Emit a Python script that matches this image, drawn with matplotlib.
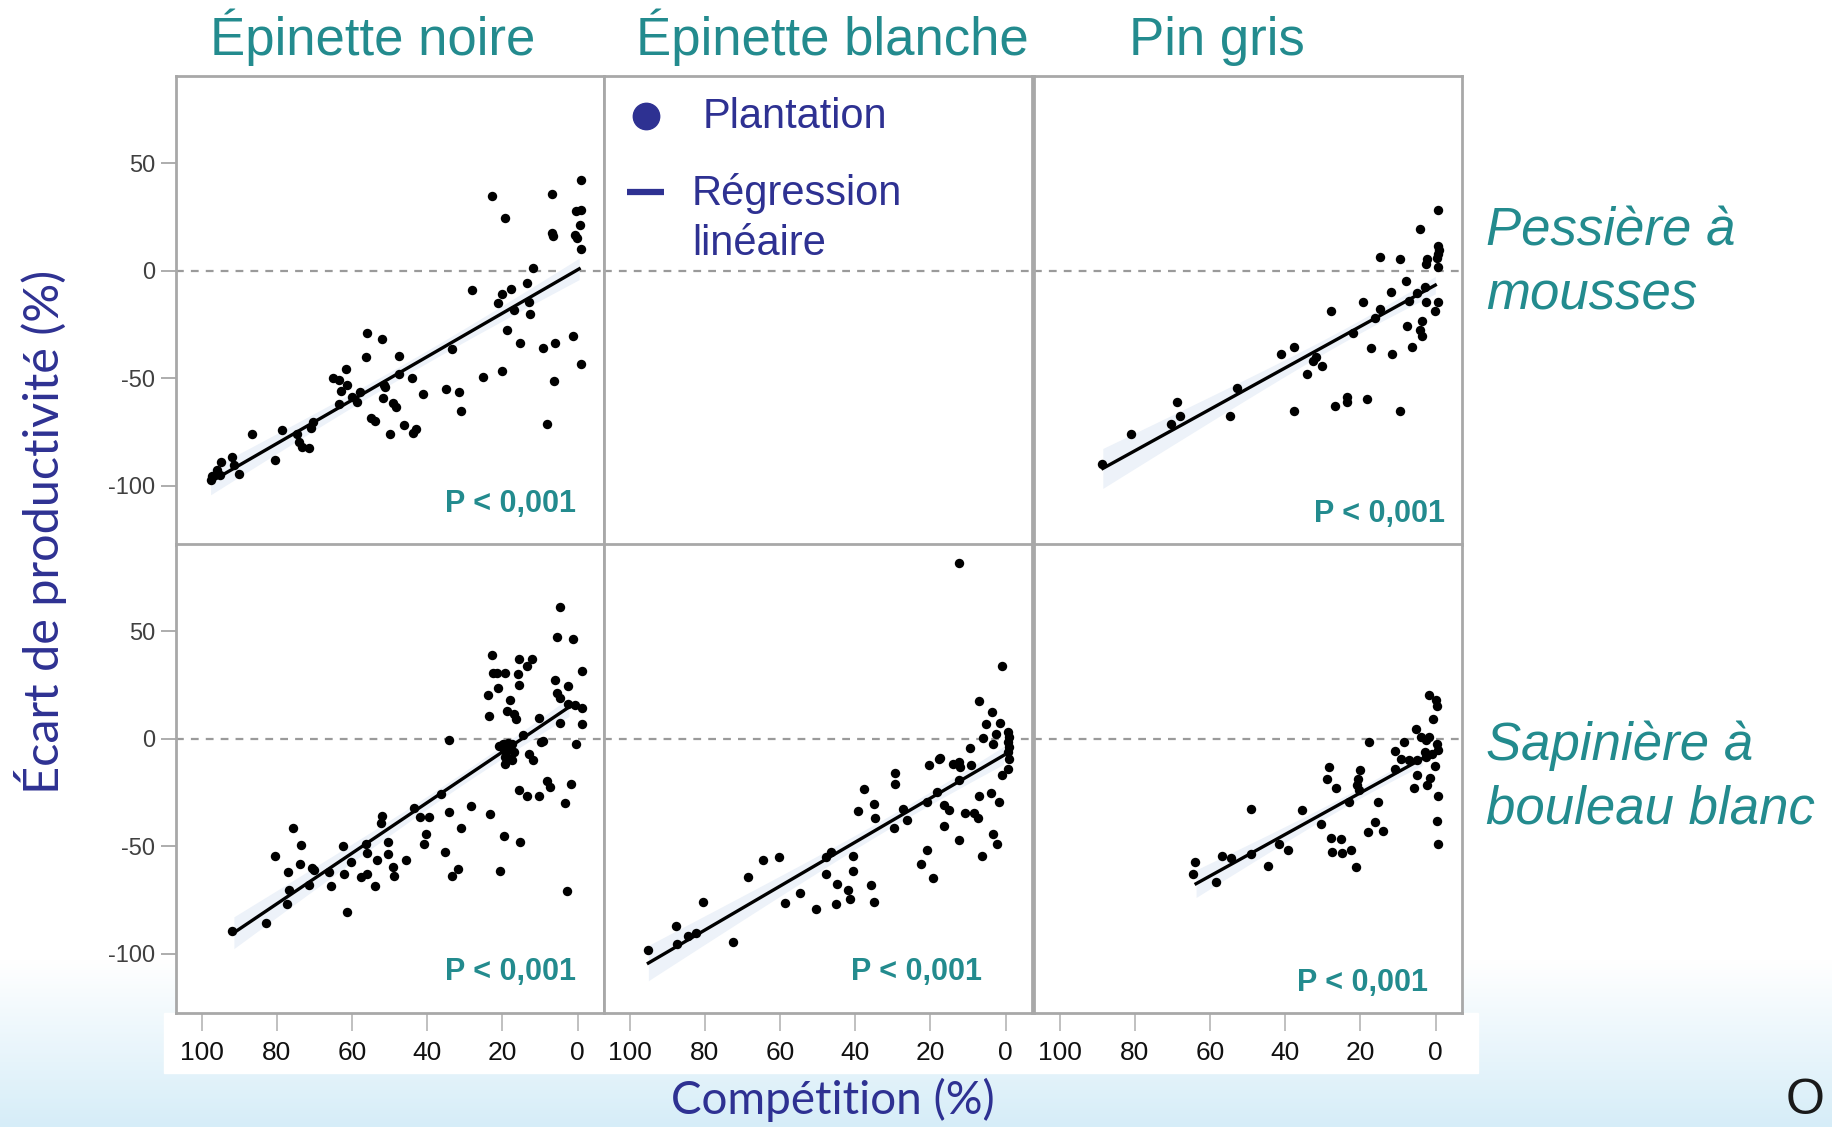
import numpy as np
import matplotlib.pyplot as plt
from matplotlib.colors import LinearSegmentedColormap
from matplotlib.patches import Rectangle

plt.rcParams['font.family'] = ['Liberation Sans', 'DejaVu Sans']
plt.rcParams['axes.unicode_minus'] = False

TEAL = '#238b8e'
NAVY = '#2e3192'
FRAME = '#a8a8a8'

species = ['Épinette noire', 'Épinette blanche', 'Pin gris']
domains = [['Pessière à', 'mousses'], ['Sapinière à', 'bouleau blanc']]
x_ticks = [100, 80, 60, 40, 20, 0]
y_ticks = [50, 0, -50, -100]
p_label = 'P < 0,001'

# (compétition %, écart de productivité %) par plantation
noire_pessiere = [
    (-1, 42.2), (22.7, 34.9), (6.9, 35.8), (19.3, 24.3), (0.5, 27.8), (-1, 28.2),
    (-0.6, 21.2), (6.9, 17.7), (6.5, 16.3), (0.7, 16.6), (0.1, 15), (-1, 10.1),
    (12, 1.4), (13.4, -5.6), (28.2, -9.1), (20.2, -10.7), (17.6, -8.7), (21.2, -14.9),
    (16.9, -18.3), (12.9, -14.4), (12.7, -20), (18.7, -27.6), (15.3, -33.8), (9.1, -36.1),
    (6.1, -33.8), (1.2, -30.4), (-0.8, -43.3), (6.3, -51.3), (8.2, -71.2), (33.5, -36.6),
    (25.2, -49.5), (20, -46.4), (34.9, -55.2), (31.6, -56.6), (30.9, -65.1), (41, -57.2),
    (44, -49.8), (47.5, -39.5), (47.5, -48.2), (56.1, -29.1), (52, -31.9), (56.3, -40.3),
    (61.7, -45.9), (65.1, -50), (63.5, -50.9), (61.3, -53.2), (63, -55.8), (59.9, -58.6),
    (58.6, -60.9), (57.9, -56.3), (63.5, -62), (51.6, -53.2), (51.2, -54), (51.8, -59.4),
    (49, -61.7), (48.4, -63.3), (55, -68.7), (53.9, -69.9), (49.8, -75.7), (46.2, -71.8),
    (43.8, -75.3), (42.9, -73.8), (70.4, -70.2), (71, -73.3), (74.7, -75.7), (74.1, -79.5),
    (73.2, -81.9), (71.5, -82.4), (78.5, -74.1), (86.5, -76.1), (80.6, -88.1), (91.8, -86.5),
    (94.8, -88.8), (91.4, -90.4), (90.1, -94.3), (95.8, -92.7), (97.2, -95.3), (95.1, -95),
    (97.4, -97.4),
]

gris_pessiere = [
    (-0.6, 28.2), (4.1, 19.4), (14.9, 6.4), (9.4, 5.4), (2.3, 5.4), (2.7, 3.1),
    (-0.6, 11.6), (-0.8, 9.6), (-0.6, 7.6), (-0.4, 5.7), (-0.6, 1.6), (7.8, -4.8),
    (11.8, -10.1), (4.9, -10.2), (2.9, -7.8), (7.2, -14.1), (2.7, -14.7), (-0.6, -14.7),
    (0.3, -18.8), (19.4, -14.4), (14.9, -17.8), (27.9, -18.6), (16, -21.9), (7.6, -25.6),
    (3.6, -23.4), (4.1, -27.6), (3.6, -30.4), (6.3, -35.3), (21.9, -28.8), (17.1, -36.1),
    (11.6, -38.9), (41, -38.9), (37.7, -35.5), (31.9, -40), (32.5, -42), (30.1, -44.5),
    (34.2, -47.9), (37.8, -65.3), (26.8, -62.9), (23.7, -58.8), (23.7, -60.9), (18.2, -59.8),
    (9.6, -65.3), (52.8, -54.4), (54.7, -67.4), (68.8, -60.9), (68, -67.4), (70.5, -71.3),
    (81, -75.7), (88.7, -89.9),
]

noire_sapiniere = [
    (4.7, 61.1), (5.4, 47.3), (1.2, 46.5), (22.7, 39.1), (15.6, 36.9), (12.2, 36.9),
    (13.4, 33.6), (22.4, 30.7), (21.4, 30.7), (19.3, 30.7), (15.8, 30.2), (15.6, 24.8),
    (21.1, 23.6), (23.8, 20.5), (18.1, 18.1), (-1.1, 31.3), (6, 27.1), (2.5, 24.5),
    (5.4, 21.2), (4.7, 18.9), (2.7, 16.3), (0.7, 15.5), (-1.2, 14.4), (18.9, 12.9),
    (16.9, 11.6), (16.5, 9.3), (23.7, 10.5), (10.3, 9.8), (4.7, 7.4), (-1.1, 6.7),
    (14.5, 1.9), (9.8, -1.6), (9.1, -1.2), (0.5, -2.3), (34.2, -0.5), (20.9, -3.6),
    (19.8, -2.6), (18.5, -2), (17.4, -2.6), (19.7, -5.4), (18.4, -5.4), (17, -6.2),
    (19.2, -8.5), (17.9, -9.3), (19.2, -11.6), (17.4, -10.1), (12.9, -7), (12, -10.1),
    (15.6, -24), (13.6, -26.8), (10.3, -26.7), (8.1, -19.7), (7.4, -22.5), (1.9, -21.2),
    (3.4, -29.8), (2.9, -70.9), (36.4, -25.6), (28.3, -31.3), (23.3, -35.2), (43.4, -32.2),
    (41.8, -36.4), (39.4, -36.4), (34.2, -34.1), (31, -41.4), (19.6, -45), (15.3, -48.1),
    (40.2, -44.2), (40.9, -48.8), (35.2, -52.7), (20.7, -61.7), (31.8, -60.5), (33.5, -64),
    (51.9, -36), (52.4, -39.2), (56.4, -48.8), (50.4, -47.8), (55.9, -52.9), (50.5, -53.5),
    (53.3, -56.6), (45.7, -56.6), (49, -59.7), (48.8, -63.6), (62.4, -49.9), (60.4, -57.4),
    (62.1, -62.8), (57.7, -64.3), (56.1, -62.8), (54, -68.5), (65.7, -68.5), (66.1, -62),
    (61.3, -80.6), (75.7, -41.6), (73.5, -49.6), (80.5, -54.3), (73.8, -58.1), (70.6, -60.2),
    (70.1, -61.2), (77, -62), (71.5, -68.2), (76.8, -70.1), (77.4, -76.7), (83, -85.7),
    (91.8, -89.6),
]

blanche_sapiniere = [
    (12.5, 81.9), (1, 33.6), (7.2, 17.5), (3.7, 12.4), (5.2, 6.7), (1.5, 7.3),
    (2.5, 2.3), (5.9, 0.5), (3.4, -2.6), (-0.7, 3.1), (-0.9, 0.8), (-0.7, -1.6),
    (-0.9, -3.9), (-0.7, -6.2), (-0.9, -9.3), (-0.7, -14), (1, -16.7), (9.5, -4.2),
    (17.4, -9), (17.8, -9.3), (13.9, -11.9), (12.5, -10.9), (12.1, -13.2), (9.3, -12.4),
    (20.5, -12.4), (12.5, -19.1), (18.3, -24.8), (3.8, -25.1), (7.1, -26.7), (20.9, -29.5),
    (16.5, -30.7), (15.1, -33), (1.9, -29.5), (10.9, -34.4), (8.5, -34.4), (7.4, -36.9),
    (16.5, -40.8), (3.5, -44.2), (2.4, -48.8), (12.3, -47), (6.2, -54.3), (21, -51.9),
    (22.6, -58.4), (19.2, -64.8), (29.5, -16), (29.5, -20.9), (37.6, -23.3), (35.1, -30.2),
    (34.7, -36.9), (39.3, -33.6), (27.3, -32.6), (26.2, -38), (29.8, -41.4), (46.5, -52.7),
    (47.7, -55), (40.7, -54.3), (47.8, -62.8), (40.6, -61.7), (44.8, -67.4), (41.9, -70.5),
    (41.3, -74.4), (35.9, -68.2), (34.9, -75.7), (45.1, -76.7), (50.3, -79.1), (54.6, -71.6),
    (58.6, -76.4), (60.4, -55), (64.6, -56.6), (68.4, -64.3), (80.5, -76), (72.5, -94.3),
    (87.6, -87.1), (87.5, -95.3), (84.5, -91.5), (82.3, -90.4), (95.1, -98),
]

gris_sapiniere = [
    (1.9, 20.5), (-0.1, 17.8), (-0.4, 15.2), (0.7, 9.3), (5.1, 4.7), (3.8, 0.8),
    (2.7, -0.8), (1.9, 0.8), (-0.4, -2.6), (-0.6, -5.4), (17.8, -1.6), (8.5, -1.6),
    (10.7, -5.7), (9.1, -9.6), (7.2, -9.8), (5, -10.1), (2.9, -6.2), (2.6, -8.5),
    (1, -7), (0.3, -12.7), (10.9, -14), (5, -16.7), (2.3, -21.7), (1.4, -18.1),
    (5.8, -22.9), (-0.6, -26.8), (-0.4, -38.4), (-0.6, -48.8), (28.4, -13.2), (29, -18.9),
    (26.4, -22.9), (20, -14.4), (20.6, -18.6), (20.9, -21.7), (20.4, -24), (23.1, -29.5),
    (15.3, -29.5), (16, -38.8), (18, -43.4), (14.1, -43.1), (35.5, -33.3), (30.6, -39.5),
    (27.9, -46), (25.3, -46.8), (27.5, -52.7), (24.8, -53), (22.6, -51.6), (21.3, -59.7),
    (49.2, -32.9), (41.6, -49.1), (39.2, -51.6), (49, -53.5), (44.7, -59.4), (56.9, -54.3),
    (54.5, -55.3), (64, -57.4), (64.4, -63.1), (58.4, -66.4),
]

# régression linéaire: (x début, x fin, ordonnée à l'origine, pente)
fits = {
    (0, 0): (97.6, -0.4, 0.45, -1.01),
    (0, 2): (88.5, 0.1, -6.6, -0.964),
    (1, 0): (91.4, 2.3, 17.4, -1.177),
    (1, 1): (95.0, 0.6, -7.2, -1.022),
    (1, 2): (63.7, 3.6, -5.8, -0.967),
}
points = {
    (0, 0): noire_pessiere,
    (0, 2): gris_pessiere,
    (1, 0): noire_sapiniere,
    (1, 1): blanche_sapiniere,
    (1, 2): gris_sapiniere,
}
# position du texte P (x, y en unités des données)
p_pos = {
    (0, 0): (0.5, -108.4),
    (0, 2): (-2.6, -112.9),
    (1, 0): (0.5, -108.5),
    (1, 1): (6.4, -108.5),
    (1, 2): (2.0, -113.6),
}

W, H = 1832, 1127
fig = plt.figure(figsize=(W / 100, H / 100), dpi=100)


def fx(px):
    return px / W


def fy(py):
    return 1 - py / H


# fond de diapositive: dégradé bleu pâle en bas, bande blanche sous les panneaux
bg = fig.add_axes([0, 0, 1, 1], zorder=-10)
bg.set_xlim(0, W)
bg.set_ylim(H, 0)
bg.axis('off')
grad = np.linspace(0, 1, 256)[:, None]
cmap = LinearSegmentedColormap.from_list('slide', ['#ffffff', '#d6edf8'])
bg.imshow(grad, extent=(0, W, H, 960), cmap=cmap, aspect='auto', zorder=0)
bg.add_patch(Rectangle((164, 1013), 1314, 60, color='white', zorder=1))

col_left = [176, 604, 1034]
col_w = 428
row_top = [76, 544]
row_h = 469

for r in range(2):
    for c in range(3):
        ax = fig.add_axes([fx(col_left[c]), fy(row_top[r] + row_h),
                           fx(col_w), row_h / H])
        ax.set_xlim(106.8, -7)
        ax.set_ylim(-127.5, 90.5)
        for s in ax.spines.values():
            s.set_color(FRAME)
            s.set_linewidth(2)
        ax.axhline(0, color='#9a9a9a', lw=1.6, dashes=(3.5, 3.2), zorder=1)

        ax.set_xticks(x_ticks)
        if r == 1:
            ax.tick_params(axis='x', length=13, width=1.2, color='#b5b5b5',
                           labelsize=19, labelcolor='#111111', pad=7)
        else:
            ax.tick_params(axis='x', length=0, labelbottom=False)
        ax.set_yticks(y_ticks)
        if c == 0:
            ax.tick_params(axis='y', length=11, width=1.2, color='#a0a0a0',
                           labelsize=17, labelcolor='#404040', pad=4)
        else:
            ax.tick_params(axis='y', length=0, labelleft=False)

        if (r, c) not in points:
            continue
        pts = np.array(points[(r, c)], dtype=float)
        x, y = pts[:, 0], pts[:, 1]
        x0, x1, b0, b1 = fits[(r, c)]

        # bande de confiance de la droite
        xs = np.linspace(x0, x1, 100)
        ys = b0 + b1 * xs
        resid = y - (b0 + b1 * x)
        s_err = np.sqrt(np.sum(resid ** 2) / (len(x) - 2))
        sxx = np.sum((x - x.mean()) ** 2)
        half = 1.2 * s_err * np.sqrt(1 / len(x) + (xs - x.mean()) ** 2 / sxx)
        ax.fill_between(xs, ys - half, ys + half, color='#edf2f9', lw=0, zorder=1)

        ax.scatter(x, y, s=46, color='black', lw=0, zorder=3)
        ax.plot(xs, ys, color='black', lw=2.4, zorder=4)

        px, py = p_pos[(r, c)]
        ax.text(px, py, p_label, ha='right', va='center', fontsize=22,
                fontweight='bold', color=TEAL, zorder=5)

# titres des colonnes
title_left = [210, 636, 1129]
for name, left in zip(species, title_left):
    fig.text(fx(left), fy(55), name, fontsize=38, color=TEAL,
             ha='left', va='baseline')

# domaines bioclimatiques
domain_baselines = [(245, 309), (760, 823)]
for lines, bases in zip(domains, domain_baselines):
    for line, base in zip(lines, bases):
        fig.text(fx(1486), fy(base), line, fontsize=38, color=TEAL,
                 style='italic', ha='left', va='baseline')

# légende
leg = fig.add_axes([0, 0, 1, 1], zorder=5)
leg.set_xlim(0, W)
leg.set_ylim(H, 0)
leg.axis('off')
leg.plot([646], [116], 'o', ms=19, color=NAVY)
leg.plot([627, 664], [192, 192], color=NAVY, lw=4.5, solid_capstyle='butt')
leg.text(703, 128, 'Plantation', fontsize=30, color=NAVY, va='baseline')
leg.text(692, 205, 'Régression', fontsize=30, color=NAVY, va='baseline')
leg.text(692, 255, 'linéaire', fontsize=30, color=NAVY, va='baseline')

# titres des axes
label_font = ['Lato', 'Liberation Sans', 'DejaVu Sans']
fig.text(fx(41), fy(532), 'Écart de productivité (%)', rotation=90,
         fontsize=35, color=NAVY, ha='center', va='center', family=label_font)
fig.text(fx(833), fy(1100), 'Compétition (%)', fontsize=33, color=NAVY,
         ha='center', va='center', family=label_font)

fig.text(fx(1805), fy(1114), 'O', fontsize=36, color='#1a1a1a',
         ha='center', va='baseline')

fig.savefig('out.png', dpi=100)
